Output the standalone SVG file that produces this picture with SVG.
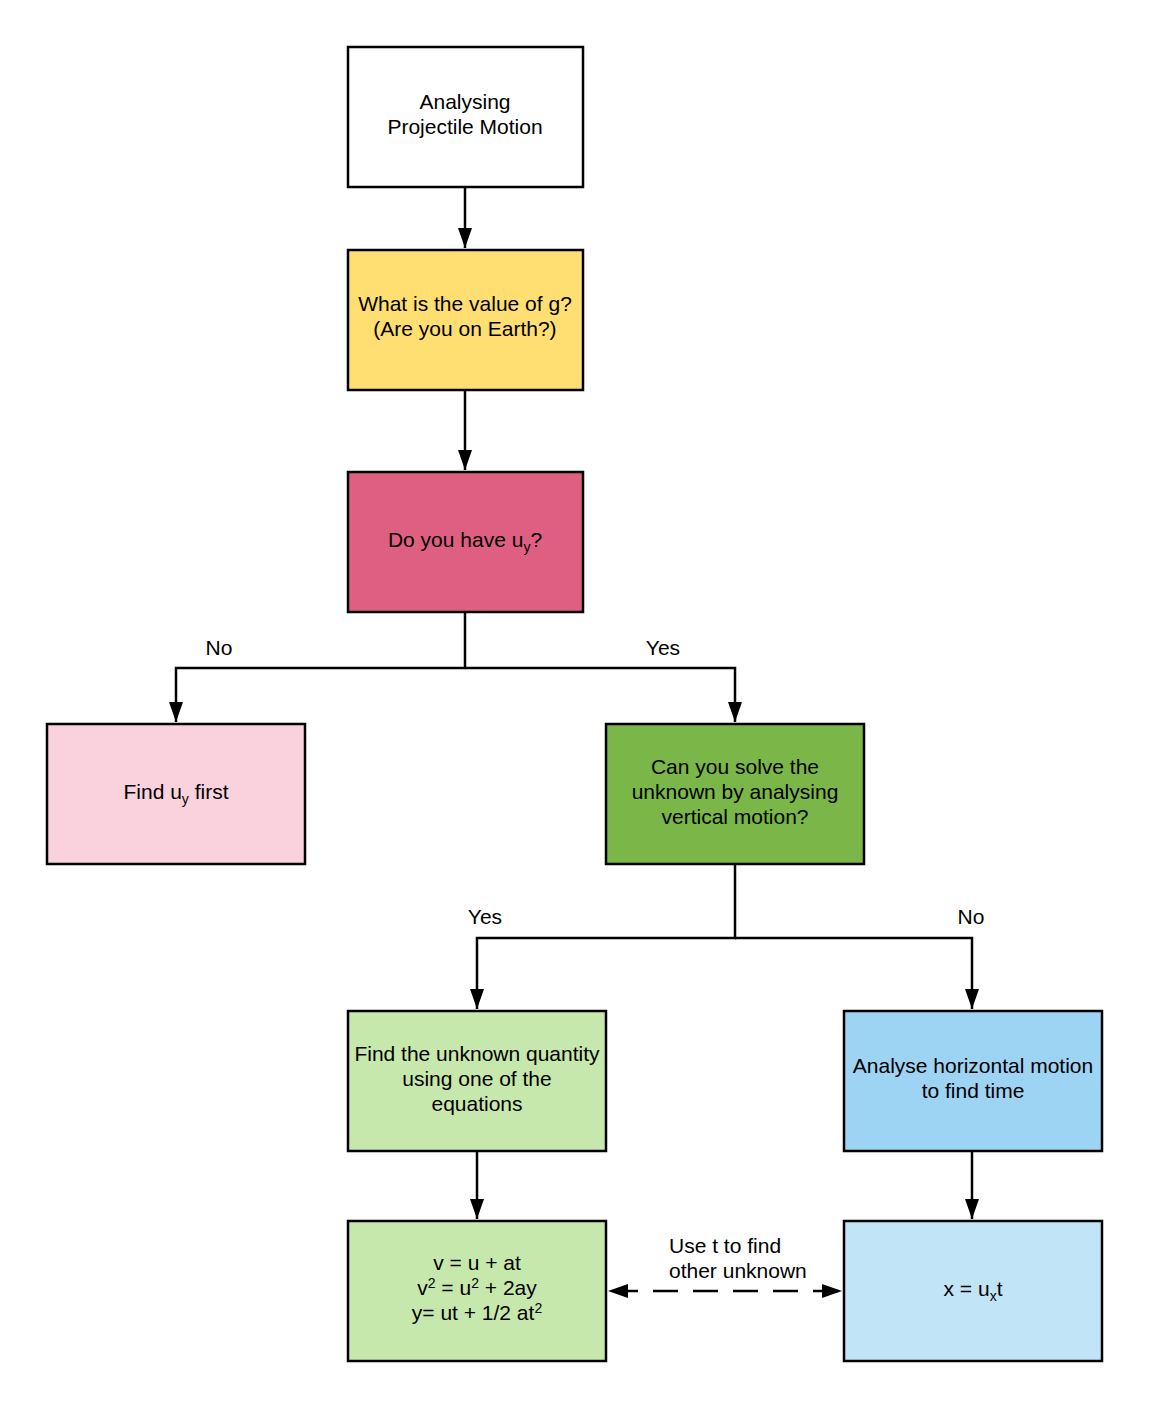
<svg xmlns="http://www.w3.org/2000/svg" width="1149" height="1410" viewBox="0 0 1149 1410">
<style>
.n{stroke:#000;stroke-width:2.5}
.t{font-family:"Liberation Sans",Arial,sans-serif;font-size:21px;fill:#000;text-anchor:middle}
.l{font-family:"Liberation Sans",Arial,sans-serif;font-size:21px;fill:#000}
.c{fill:none;stroke:#000;stroke-width:2.5}
.s{font-size:14px}
</style>
<defs>
<marker id="a" viewBox="0 0 20 14" refX="20" refY="7" markerWidth="20" markerHeight="14" markerUnits="userSpaceOnUse" orient="auto-start-reverse">
<path d="M0,0 L20,7 L0,14 Z" fill="#000"/>
</marker>
</defs>
<rect width="1149" height="1410" fill="#fff"/>
<g id="connectors">
<path class="c" d="M465,188 V248" marker-end="url(#a)"/>
<path class="c" d="M465,391 V470" marker-end="url(#a)"/>
<path class="c" d="M465,613 V668 H176 V722" marker-end="url(#a)"/>
<path class="c" d="M465,668 H735 V722" marker-end="url(#a)"/>
<path class="c" d="M735,865 V938 H477 V1009" marker-end="url(#a)"/>
<path class="c" d="M735,938 H972 V1009" marker-end="url(#a)"/>
<path class="c" d="M477,1152 V1219" marker-end="url(#a)"/>
<path class="c" d="M972,1152 V1219" marker-end="url(#a)"/>
<path class="c" d="M608,1291 H842" stroke-dasharray="25,15" stroke-dashoffset="-5" marker-start="url(#a)" marker-end="url(#a)"/>
<text class="l" x="219" y="655" text-anchor="middle">No</text>
<text class="l" x="663" y="655" text-anchor="middle">Yes</text>
<text class="l" x="485" y="924" text-anchor="middle">Yes</text>
<text class="l" x="971" y="924" text-anchor="middle">No</text>
<text class="l" x="669" y="1253">Use t to find</text>
<text class="l" x="669" y="1278">other unknown</text>
</g>
<g id="start">
<rect class="n" x="348" y="47" width="235" height="140" fill="#fff"/>
<text class="t" x="465" y="109">Analysing</text>
<text class="t" x="465" y="134">Projectile Motion</text>
</g>
<g id="g-value">
<rect class="n" x="348" y="250" width="235" height="140" fill="#FFDF71"/>
<text class="t" x="465" y="311">What is the value of g?</text>
<text class="t" x="465" y="336">(Are you on Earth?)</text>
</g>
<g id="have-uy">
<rect class="n" x="348" y="472" width="235" height="140" fill="#DF5F83"/>
<text class="t" x="465" y="547">Do you have u<tspan class="s" dy="5">y</tspan><tspan dy="-5">?</tspan></text>
</g>
<g id="find-uy">
<rect class="n" x="47" y="724" width="258" height="140" fill="#F9D2DE"/>
<text class="t" x="176" y="799">Find u<tspan class="s" dy="5">y</tspan><tspan dy="-5"> first</tspan></text>
</g>
<g id="vertical">
<rect class="n" x="606" y="724" width="258" height="140" fill="#7AB648"/>
<text class="t" x="735" y="774">Can you solve the</text>
<text class="t" x="735" y="799">unknown by analysing</text>
<text class="t" x="735" y="824">vertical motion?</text>
</g>
<g id="find-unknown">
<rect class="n" x="348" y="1011" width="258" height="140" fill="#C7E8AC"/>
<text class="t" x="477" y="1061">Find the unknown quantity</text>
<text class="t" x="477" y="1086">using one of the</text>
<text class="t" x="477" y="1111">equations</text>
</g>
<g id="horizontal">
<rect class="n" x="844" y="1011" width="258" height="140" fill="#9DD3F3"/>
<text class="t" x="973" y="1073">Analyse horizontal motion</text>
<text class="t" x="973" y="1098">to find time</text>
</g>
<g id="equations">
<rect class="n" x="348" y="1221" width="258" height="140" fill="#C7E8AC"/>
<text class="t" x="477" y="1270">v = u + at</text>
<text class="t" x="477" y="1295">v<tspan class="s" dy="-7">2</tspan><tspan dy="7"> = u</tspan><tspan class="s" dy="-7">2</tspan><tspan dy="7"> + 2ay</tspan></text>
<text class="t" x="477" y="1320">y= ut + 1/2 at<tspan class="s" dy="-7">2</tspan></text>
</g>
<g id="x-eq">
<rect class="n" x="844" y="1221" width="258" height="140" fill="#C1E4F7"/>
<text class="t" x="973" y="1296">x = u<tspan class="s" dy="5">x</tspan><tspan dy="-5">t</tspan></text>
</g>
</svg>
